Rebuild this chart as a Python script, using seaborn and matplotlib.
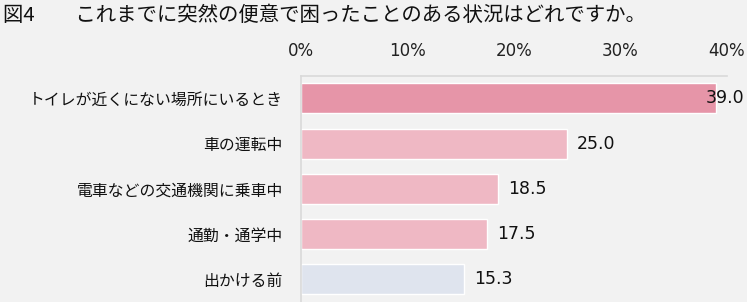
import matplotlib
matplotlib.use("Agg")
import matplotlib.pyplot as plt
import seaborn as sns
import pandas as pd

title = "図4　　これまでに突然の便意で困ったことのある状況はどれですか。"
categories = ["トイレが近くにない場所にいるとき", "車の運転中", "電車などの交通機関に乗車中", "通勤・通学中", "出かける前"]
values = [39.0, 25.0, 18.5, 17.5, 15.3]
colors = ["#e695a8", "#efb8c4", "#efb8c4", "#efb8c4", "#dfe4ee"]
xticks = [0, 10, 20, 30, 40]
xtick_labels = ["0%", "10%", "20%", "30%", "40%"]

sns.set_theme(style="white")
plt.rcParams['font.family'] = ['Noto Sans CJK JP', 'DejaVu Sans']
bg = "#f2f2f2"
num_font = ['DejaVu Sans']

fig = plt.figure(figsize=(7.47, 3.02), dpi=100, facecolor=bg)
ax = fig.add_axes([301/747, 0.0, (727-301)/747, (302-75.7)/302])
ax.set_facecolor(bg)

df = pd.DataFrame({"cat": categories, "val": values})
sns.barplot(data=df, y="cat", x="val", hue="cat", palette=colors, legend=False,
            width=0.66, ax=ax, orient="h", saturation=1)

ax.set_xlim(0, 40)
ax.set_ylim(4.5, -0.5)
ax.set_xlabel("")
ax.set_ylabel("")
ax.xaxis.tick_top()
ax.set_xticks(xticks)
ax.set_xticklabels(xtick_labels, fontsize=12, color="#222222", family=num_font)
ax.tick_params(axis="x", length=0, pad=11)
ax.tick_params(axis="y", length=0, pad=13, labelsize=11.4, labelcolor="#111111")

for s in ["right", "bottom"]:
    ax.spines[s].set_visible(False)
for s in ["top", "left"]:
    ax.spines[s].set_color("#d9d9d9")
    ax.spines[s].set_linewidth(1.2)

for i, v in enumerate(values):
    if v + 4 > 40:
        ax.annotate(f"{v:.1f}", xy=(1.0, i), xycoords=("axes fraction", "data"),
                    xytext=(12.5, 0), textcoords="offset points", ha="right", va="center",
                    fontsize=12.5, color="#111111", family=num_font, annotation_clip=False)
    else:
        ax.annotate(f"{v:.1f}", xy=(v, i), xytext=(7, 0), textcoords="offset points",
                    ha="left", va="center", fontsize=12.5, color="#111111", family=num_font)

fig.text(3/747, 1 - 15/302, title, ha="left", va="center", fontsize=14.7, color="#111111")

fig.savefig("out.png", dpi=100, facecolor=bg)
